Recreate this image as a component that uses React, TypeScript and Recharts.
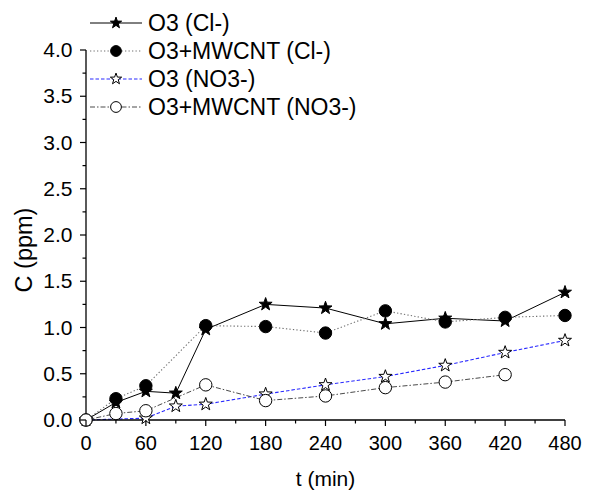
import React from 'react';
import { LineChart, Line, XAxis, YAxis, Legend } from 'recharts';

// ---- data ----
const times = [0, 30, 60, 90, 120, 180, 240, 300, 360, 420, 480];
const o3Cl = [0, 0.19, 0.31, 0.29, 0.98, 1.25, 1.21, 1.04, 1.1, 1.07, 1.38];
const o3MwcntCl = [0, 0.23, 0.37, null, 1.02, 1.01, 0.94, 1.18, 1.06, 1.11, 1.13];
const o3No3 = [0, null, 0.02, 0.15, 0.17, 0.28, 0.38, 0.47, 0.59, 0.73, 0.86];
const o3MwcntNo3 = [0, 0.07, 0.1, null, 0.38, 0.21, 0.26, 0.35, 0.41, 0.49, null];
const seriesNames = ['O3 (Cl-)', 'O3+MWCNT (Cl-)', 'O3 (NO3-)', 'O3+MWCNT (NO3-)'];
const xTicks = [0, 30, 60, 90, 120, 150, 180, 210, 240, 270, 300, 330, 360, 390, 420, 450, 480];
const xLabelTicks = [0, 60, 120, 180, 240, 300, 360, 420, 480];
const yTicks = [0, 0.25, 0.5, 0.75, 1, 1.25, 1.5, 1.75, 2, 2.25, 2.5, 2.75, 3, 3.25, 3.5, 3.75, 4];
const yLabelTicks = [0, 0.5, 1, 1.5, 2, 2.5, 3, 3.5, 4];

const seriesValues = [o3Cl, o3MwcntCl, o3No3, o3MwcntNo3];
const data = times.map((t, i) => {
  const row: any = { t };
  seriesValues.forEach((vals, s) => {
    row['s' + s] = vals[i];
  });
  return row;
});

// ---- styles ----
const FONT = "'Liberation Sans', Arial, Helvetica, sans-serif";
const styles = [
  { stroke: '#000000', dash: undefined as string | undefined, shape: 'star', filled: true, width: 1 },
  { stroke: '#707070', dash: '1.3 2.2', shape: 'circle', filled: true, width: 1.1 },
  { stroke: '#2a2aff', dash: '3.5 2', shape: 'star', filled: false, width: 1.1 },
  { stroke: '#4a4a4a', dash: '5 2 1.5 2', shape: 'circle', filled: false, width: 1 },
];

function starPoints(cx: number, cy: number, R: number) {
  const r = R * 0.4;
  const pts: string[] = [];
  for (let i = 0; i < 10; i++) {
    const a = (-90 + i * 36) * Math.PI / 180;
    const rad = i % 2 === 0 ? R : r;
    pts.push((cx + rad * Math.cos(a)).toFixed(2) + ',' + (cy + rad * Math.sin(a)).toFixed(2));
  }
  return pts.join(' ');
}

function Marker({ cx, cy, shape, filled, size }: any) {
  if (shape === 'star') {
    return (
      <polygon
        points={starPoints(cx, cy, size * 1.1)}
        fill={filled ? '#000' : '#fff'}
        stroke="#000"
        strokeWidth={1}
        strokeLinejoin="miter"
      />
    );
  }
  return <circle cx={cx} cy={cy} r={size} fill={filled ? '#000' : '#fff'} stroke="#000" strokeWidth={1} />;
}

const makeDot = (s: number) => (p: any) => {
  const st = styles[s];
  if (p.cx == null || p.cy == null || p.value == null) return <g key={p.key ?? 'd' + s + '-' + p.index} />;
  return (
    <g key={p.key ?? 'd' + s + '-' + p.index}>
      <Marker cx={p.cx} cy={p.cy} shape={st.shape} filled={st.filled} size={6.2} />
    </g>
  );
};

const XTick = (props: any) => {
  const { x, y, payload } = props;
  const v = payload.value;
  const major = xLabelTicks.includes(v);
  return (
    <g>
      <line x1={x} x2={x} y1={y} y2={y + (major ? 6 : 3.5)} stroke="#000" strokeWidth={1.2} />
      {major && (
        <text x={x} y={y + 30} textAnchor="middle" fontSize={20} fontFamily={FONT} fill="#000">
          {v}
        </text>
      )}
    </g>
  );
};

const YTick = (props: any) => {
  const { x, y, payload } = props;
  const v = payload.value;
  const major = yLabelTicks.includes(v);
  return (
    <g>
      <line x1={x} x2={x - (major ? 6 : 3.5)} y1={y} y2={y} stroke="#000" strokeWidth={1.2} />
      {major && (
        <text x={x - 13.5} y={y + 7} textAnchor="end" fontSize={21} fontFamily={FONT} fill="#000">
          {v.toFixed(1)}
        </text>
      )}
    </g>
  );
};

const YTitle = (props: any) => {
  const vb = props.viewBox || { x: 0, y: 50, width: 86, height: 370 };
  const cx = vb.x + 24;
  const cy = vb.y + vb.height / 2 + 15;
  return (
    <text
      x={cx}
      y={cy}
      transform={`rotate(-90 ${cx} ${cy})`}
      textAnchor="middle"
      dominantBaseline="central"
      fontSize={23.5}
      fontFamily={FONT}
      fill="#000"
    >
      C (ppm)
    </text>
  );
};

const XTitle = (props: any) => {
  const vb = props.viewBox || { x: 86, y: 420, width: 479, height: 73 };
  return (
    <text x={vb.x + vb.width / 2} y={vb.y + 66} textAnchor="middle" fontSize={21} fontFamily={FONT} fill="#000">
      t (min)
    </text>
  );
};

const LegendContent = () => (
  <div style={{ position: 'relative', width: 600, height: 130 }}>
    {seriesNames.map((name, i) => {
      const st = styles[i];
      return (
        <div
          key={name}
          style={{
            position: 'absolute',
            left: 90,
            top: 22.5 + i * 28.3 - 15,
            height: 30,
            display: 'flex',
            alignItems: 'center',
            whiteSpace: 'nowrap',
          }}
        >
          <svg width={52} height={30} style={{ display: 'block' }}>
            <line x1={0} x2={52} y1={15} y2={15} stroke={st.stroke} strokeWidth={st.width} strokeDasharray={st.dash} />
            <Marker cx={26} cy={15} shape={st.shape} filled={st.filled} size={5.4} />
          </svg>
          <span style={{ marginLeft: 6, fontSize: 23, fontFamily: FONT, color: '#000', lineHeight: '30px' }}>{name}</span>
        </div>
      );
    })}
  </div>
);

export default function App() {
  return (
    <div style={{ position: 'absolute', left: 0, top: 0, width: 600, height: 493, background: '#fff' }}>
      <LineChart width={600} height={493} data={data} margin={{ top: 50, right: 35, bottom: 0, left: 0 }}>
        <XAxis
          dataKey="t"
          type="number"
          domain={[0, 480]}
          ticks={xTicks}
          interval={0}
          tickSize={0}
          tickMargin={0}
          tick={XTick}
          tickLine={false}
          axisLine={{ stroke: '#000', strokeWidth: 1.3 }}
          height={73}
          label={{ content: XTitle }}
        />
        <YAxis
          type="number"
          domain={[0, 4]}
          ticks={yTicks}
          interval={0}
          tickSize={0}
          tickMargin={0}
          tick={YTick}
          tickLine={false}
          axisLine={{ stroke: '#000', strokeWidth: 1.3 }}
          width={86}
          label={{ content: YTitle }}
        />
        <Legend
          layout="horizontal"
          verticalAlign="middle"
          align="center"
          content={LegendContent}
          wrapperStyle={{ left: 0, top: 0, width: 600, height: 130, pointerEvents: 'none' }}
        />
        {styles.map((st, s) => (
          <Line
            key={'s' + s}
            dataKey={'s' + s}
            name={seriesNames[s]}
            type="linear"
            stroke={st.stroke}
            strokeWidth={st.width}
            strokeDasharray={st.dash}
            connectNulls
            dot={makeDot(s)}
            activeDot={false}
            isAnimationActive={false}
          />
        ))}
      </LineChart>
    </div>
  );
}
